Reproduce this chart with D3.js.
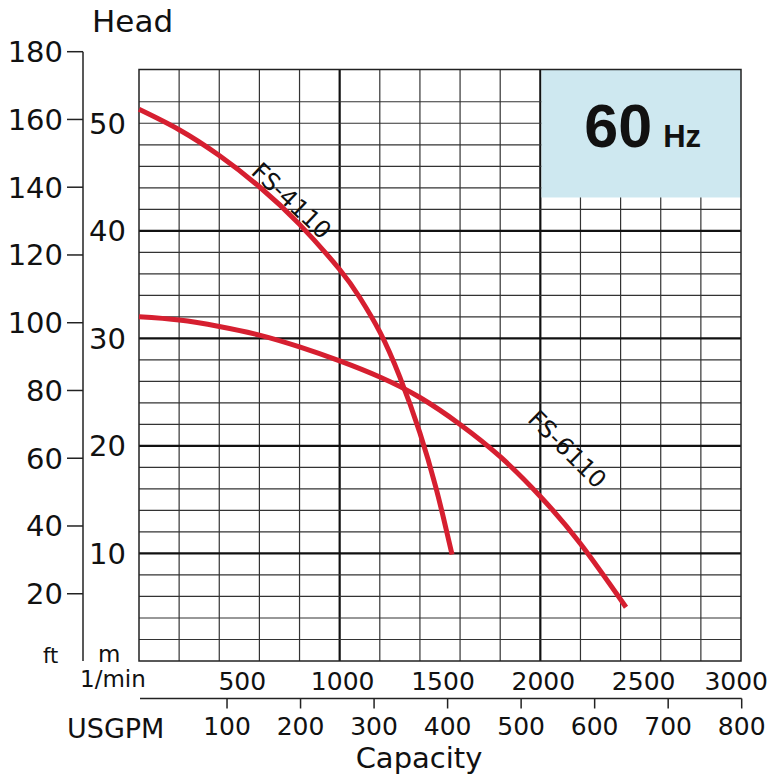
<!DOCTYPE html>
<html><head><meta charset="utf-8">
<script src="https://cdn.jsdelivr.net/npm/d3@7"></script>
<style>
body{margin:0;background:#fff;}
svg{display:block;}
text{font-family:"DejaVu Sans",sans-serif;fill:#111;}
</style>
</head><body>
<svg id="chart" width="769" height="777"></svg>
<script>
// ---- data ----
const fs4110Flow = [0, 200, 400, 600, 800, 1000, 1100, 1200, 1300, 1400, 1480, 1530, 1560]; // l/min
const fs4110Head = [51.3, 49.4, 47.0, 44.1, 40.6, 36.4, 33.8, 30.6, 26.4, 21.2, 16.1, 12.3, 9.9]; // m
const fs6110Flow = [0, 200, 400, 600, 800, 1000, 1200, 1400, 1600, 1800, 2000, 2200, 2427];
const fs6110Head = [32.0, 31.7, 31.1, 30.3, 29.2, 27.9, 26.4, 24.5, 22.0, 19.0, 15.3, 10.9, 5.0];
const seriesNames = ["FS-4110", "FS-6110"];
const labelFlow = [720, 1950];        // where each label sits along its curve (l/min)
const lpmTicks = [500, 1000, 1500, 2000, 2500, 3000];
const gpmTicks = [100, 200, 300, 400, 500, 600, 700, 800];
const ftTicks = [20, 40, 60, 80, 100, 120, 140, 160, 180];
const mTicks = [10, 20, 30, 40, 50];
const majorFlow = [1000, 2000];
const majorHead = [10, 20, 30, 40];
const freqLabel = "60", freqUnit = "Hz";

// ---- layout ----
const W = 769, H = 777;
const svg = d3.select("#chart");
const x = d3.scaleLinear().domain([0, 3000]).range([139, 741]);
const y = d3.scaleLinear().domain([0, 55]).range([661, 69.5]);
const ftY = d3.scaleLinear().domain([0, 180]).range([661.5, 51.7]);
const gpmX = d3.scaleLinear().domain([0, 800]).range([153.5, 741.7]);

// ---- grid ----
const grid = svg.append("g");
const vLines = d3.range(200, 3000, 200);
const hLines = d3.range(2, 54, 2);
grid.selectAll("line.v").data(vLines).join("line")
  .attr("x1", d => x(d)).attr("x2", d => x(d))
  .attr("y1", y(0)).attr("y2", y(55))
  .attr("stroke", d => majorFlow.includes(d) ? "#111" : "#333")
  .attr("stroke-width", d => majorFlow.includes(d) ? 2.2 : 1.2);
grid.selectAll("line.h").data(hLines).join("line")
  .attr("y1", d => y(d)).attr("y2", d => y(d))
  .attr("x1", x(0)).attr("x2", x(3000))
  .attr("stroke", d => majorHead.includes(d) ? "#111" : "#333")
  .attr("stroke-width", d => majorHead.includes(d) ? 2.2 : 1.2);

// ---- frequency box ----
svg.append("rect")
  .attr("x", x(2000) + 1.1).attr("y", y(55))
  .attr("width", x(3000) - x(2000) - 1.1).attr("height", y(43.1) - y(55))
  .attr("fill", "#cee8f0");
const boxCx = (x(2000) + x(3000)) / 2 + 2;
const ft = svg.append("text")
  .attr("x", boxCx).attr("y", y(55) + 77)
  .attr("text-anchor", "middle")
  .style("font-family", "'Liberation Sans', Arial, sans-serif")
  .style("font-weight", "bold");
ft.append("tspan").attr("font-size", 61).text(freqLabel);
ft.append("tspan").attr("font-size", 31).attr("dx", 11).text(freqUnit);

// ---- plot border ----
svg.append("rect")
  .attr("x", x(0)).attr("y", y(55))
  .attr("width", x(3000) - x(0)).attr("height", y(0) - y(55))
  .attr("fill", "none").attr("stroke", "#222").attr("stroke-width", 1.5);

// ---- curves ----
const series = [
  {name: seriesNames[0], flow: fs4110Flow, head: fs4110Head, lf: labelFlow[0], off: 12},
  {name: seriesNames[1], flow: fs6110Flow, head: fs6110Head, lf: labelFlow[1], off: 53}
];
const line = d3.line().x(d => x(d[0])).y(d => y(d[1])).curve(d3.curveNatural);
series.forEach(s => {
  const pts = s.flow.map((f, i) => [f, s.head[i]]);
  svg.append("path").attr("d", line(pts))
    .attr("fill", "none").attr("stroke", "#d61f30")
    .attr("stroke-width", 5).attr("stroke-linecap", "butt");
  const interp = d3.scaleLinear().domain(s.flow).range(s.head);
  const p0 = [x(s.lf - 25), y(interp(s.lf - 25))];
  const p1 = [x(s.lf + 25), y(interp(s.lf + 25))];
  const ang = Math.atan2(p1[1] - p0[1], p1[0] - p0[0]);
  const px = x(s.lf), py = y(interp(s.lf));
  const cx = px + s.off * Math.sin(ang), cy = py - s.off * Math.cos(ang);
  svg.append("text")
    .attr("transform", `translate(${cx},${cy}) rotate(${ang * 180 / Math.PI})`)
    .attr("text-anchor", "middle").attr("dy", "0.36em")
    .attr("font-size", 24).text(s.name);
});

// ---- left axes ----
const ftAxisX = x(0) - 56;
svg.append("line").attr("x1", ftAxisX).attr("x2", ftAxisX)
  .attr("y1", ftY(180)).attr("y2", y(0))
  .attr("stroke", "#222").attr("stroke-width", 1.5);
svg.selectAll("line.ftt").data(ftTicks).join("line")
  .attr("x1", ftAxisX - 16).attr("x2", ftAxisX)
  .attr("y1", d => ftY(d)).attr("y2", d => ftY(d))
  .attr("stroke", "#222").attr("stroke-width", 1.5);
svg.selectAll("text.ftl").data(ftTicks).join("text")
  .attr("x", ftAxisX - 20).attr("y", d => ftY(d)).attr("dy", "0.36em")
  .attr("text-anchor", "end").attr("font-size", 29).text(d => d);
svg.selectAll("text.ml").data(mTicks).join("text")
  .attr("x", ftAxisX + 6).attr("y", d => y(d)).attr("dy", "0.36em")
  .attr("text-anchor", "start").attr("font-size", 29).text(d => d);
svg.append("text").attr("x", 92).attr("y", 32).attr("font-size", 31).text("Head");
svg.append("text").attr("x", 43).attr("y", 663).attr("font-size", 21).text("ft");
svg.append("text").attr("x", 98).attr("y", 662).attr("font-size", 23).text("m");
svg.append("text").attr("x", 80).attr("y", 687).attr("font-size", 23).text("1/min");

// ---- bottom axes ----
svg.selectAll("text.lpm").data(lpmTicks).join("text")
  .attr("y", 690).attr("text-anchor", "middle").attr("font-size", 25)
  .text(d => d)
  .attr("x", function(d) {
    const w = this.getComputedTextLength();
    return Math.min(x(d) + 3, W - 1 - w / 2);
  });
const gpmY = 698.5;
svg.append("line").attr("x1", x(0) + 1).attr("x2", gpmX(800))
  .attr("y1", gpmY).attr("y2", gpmY).attr("stroke", "#222").attr("stroke-width", 1.5);
svg.selectAll("line.gt").data(gpmTicks).join("line")
  .attr("x1", d => gpmX(d)).attr("x2", d => gpmX(d))
  .attr("y1", gpmY).attr("y2", gpmY + 10)
  .attr("stroke", "#222").attr("stroke-width", 1.5);
svg.selectAll("text.gl").data(gpmTicks).join("text")
  .attr("y", 735).attr("text-anchor", "middle").attr("font-size", 25)
  .text(d => d)
  .attr("x", function(d) {
    const w = this.getComputedTextLength();
    return Math.min(gpmX(d), W - 1 - w / 2);
  });
svg.append("text").attr("x", 67).attr("y", 738).attr("font-size", 27).text("USGPM");
svg.append("text").attr("x", 419).attr("y", 768).attr("text-anchor", "middle")
  .attr("font-size", 29).text("Capacity");
</script>
</body></html>
